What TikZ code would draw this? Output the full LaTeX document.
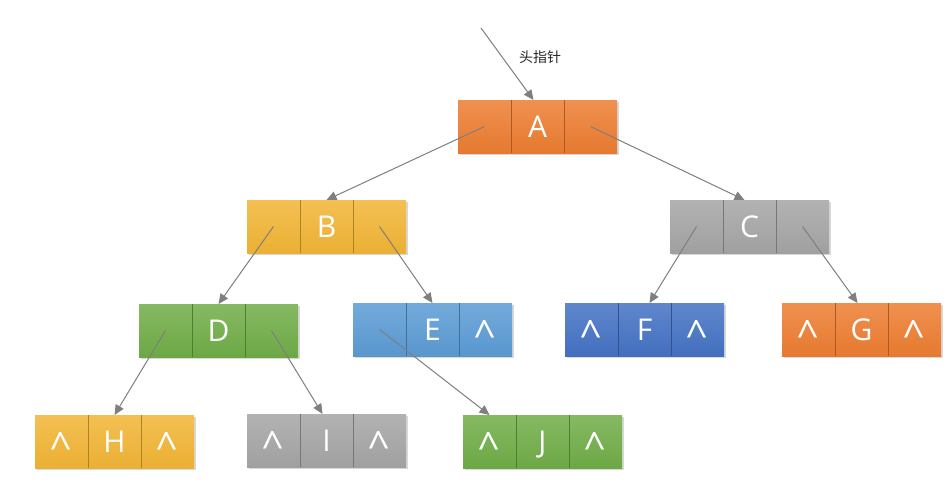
\documentclass[tikz,border=0pt]{standalone}
\usepackage{fontspec}
\setmainfont{Open Sans}
\newfontfamily\cjk{Noto Sans CJK SC}
\usetikzlibrary{arrows.meta,shadows}
\definecolor{cOrange}{HTML}{ED7D31}
\definecolor{cYellow}{HTML}{F2B535}
\definecolor{cGray}{HTML}{A5A5A5}
\definecolor{cGreen}{HTML}{70AD47}
\definecolor{cBlue}{HTML}{5B9BD5}
\definecolor{cDBlue}{HTML}{4472C4}
\definecolor{cLine}{HTML}{7F7F7F}
\newcommand\caretsym{\raisebox{-7.5pt}{\scalebox{1.3}{\textasciicircum}}}
\tikzset{
  cell/.style={minimum width=53pt,minimum height=53pt,inner sep=0pt,outer sep=0pt,
    top color=#1!85!white,bottom color=#1!97!black,
    text=white,font=\fontsize{30}{30}\selectfont,text height=22pt,text depth=0pt,
    drop shadow={shadow xshift=1.5pt,shadow yshift=-1.5pt,opacity=0.3}},
  divider/.style={draw=#1!72!black,line width=1pt},
  ptr/.style={draw=cLine,line width=1pt,-{Triangle[length=10pt,width=9pt]}},
  headlbl/.style={font=\cjk\fontsize{14}{14}\selectfont,text=black!85}
}
% name, left, top, colour, left text, mid text, right text
\newcommand\mkrec[7]{%
  \node[cell=#4] (#1-l) at ({#2+26.5},{#3+26.5}) {#5};
  \node[cell=#4] (#1-m) at ({#2+79.5},{#3+26.5}) {#6};
  \node[cell=#4] (#1-r) at ({#2+132.5},{#3+26.5}) {#7};
  \draw[divider=#4] (#1-l.north east) -- (#1-l.south east);
  \draw[divider=#4] (#1-m.north east) -- (#1-m.south east);
}
\begin{document}
\begin{tikzpicture}[x=1pt,y=-1pt]
\useasboundingbox (0,0) rectangle (951,488);
\fill[white] (0,0) rectangle (951,488);

\mkrec{A}{458}{100}{cOrange}{}{A}{}
\mkrec{B}{247}{200}{cYellow}{}{B}{}
\mkrec{C}{670}{200}{cGray}{}{C}{}
\mkrec{D}{139}{304}{cGreen}{}{D}{}
\mkrec{E}{353}{303}{cBlue}{}{E}{\caretsym}
\mkrec{F}{565}{303}{cDBlue}{\caretsym}{F}{\caretsym}
\mkrec{G}{782}{303}{cOrange}{\caretsym}{G}{\caretsym}
\mkrec{H}{35}{415}{cYellow}{\caretsym}{H}{\caretsym}
\mkrec{I}{247}{414}{cGray}{\caretsym}{I}{\caretsym}
\mkrec{J}{463}{415}{cGreen}{\caretsym}{J}{\caretsym}

\coordinate (hp) at (481,28);
\node[headlbl] (hl) at (540,57) {头指针};
\draw[ptr] (hp) -- ([xshift=-4pt]A-m.north);

\draw[ptr] (A-l.center) -- (B-m.north);
\draw[ptr] (A-r.center) -- ([xshift=-5pt]C-m.north);
\draw[ptr] (B-l.center) -- (D-m.north);
\draw[ptr] (B-r.center) -- (E-m.north);
\draw[ptr] (C-l.center) -- ([xshift=5pt]F-m.north);
\draw[ptr] (C-r.center) -- ([xshift=-4pt]G-m.north);
\draw[ptr] (D-l.center) -- (H-m.north);
\draw[ptr] (D-r.center) -- ([xshift=-4pt]I-m.north);
\draw[ptr] (E-l.center) -- (J-l.north);
\end{tikzpicture}
\end{document}
